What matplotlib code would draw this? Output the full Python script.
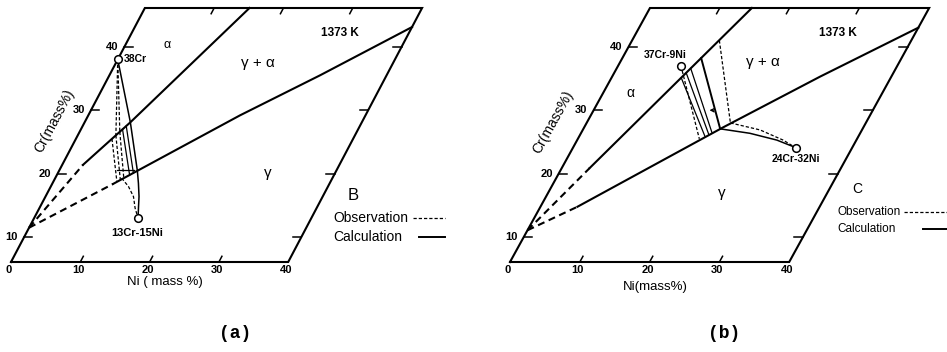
import numpy as np
import matplotlib
matplotlib.use('Agg')
import matplotlib.pyplot as plt
from matplotlib.transforms import Affine2D, offset_copy
from matplotlib.lines import Line2D

plt.rcParams['font.family'] = ['Liberation Sans', 'DejaVu Sans']

# composition frame, mass%
ni_ticks = [0, 10, 20, 30, 40]
cr_ticks = [10, 20, 30, 40]
cr_lo, cr_hi = 6.1, 46.1
ni_hi = 40

# (a) couple B: phase boundaries (first segment is the dashed extrapolation)
a_upper_ni = [0, 3.0, 6.6, 15.1]
a_upper_cr = [11.5, 21.4, 28.1, 46.1]
a_lower_ni = [0, 8.8, 21.9, 30.4, 40]
a_lower_cr = [11.5, 18.4, 29.2, 35.5, 43.1]
a_alloy1 = ('38Cr', 0, 38)
a_alloy2 = ('13Cr-15Ni', 15, 13)
# tie lines: (Ni, Cr) on alpha side -> (Ni, Cr) on gamma side
a_obs_ties = [(5.2, 25.5, 9.2, 18.7), (5.5, 26.05, 9.55, 19.0), (5.8, 26.6, 9.9, 19.3)]
a_calc_ties = [(6.0, 27.0, 10.5, 19.8), (6.3, 27.5, 10.9, 20.1)]
# diffusion paths
a_calc_path_ni = [0, 6.6, 11.3, 12.4, 13.5, 14.2, 15]
a_calc_path_cr = [38, 28.1, 20.46, 18.5, 16.4, 14.8, 13]
a_obs_path_ni = [9.6, 11.2, 12.7, 13.8, 15]
a_obs_path_cr = [19.3, 18.0, 16.4, 14.6, 13]
a_obs_lead = [(5.5, 26.05), (5.8, 26.6)]
a_cross = (8.3, 10.7, 20.6)

# (b) couple C
b_upper_ni = [0, 4.0, 14.6]
b_upper_cr = [11.1, 20.9, 46.1]
b_lower_ni = [0, 5.3, 19.9, 29.8, 40]
b_lower_cr = [11.1, 14.8, 27.3, 35.3, 43.0]
b_alloy1 = ('37Cr-9Ni', 9, 37)
b_alloy2 = ('24Cr-32Ni', 32, 24)
b_obs_ties = [(9.0, 37.0, 17.4, 25.5), (12.5, 41.0, 20.6, 28.0)]
b_calc_ties = [(10.0, 35.1, 18.0, 25.9), (10.3, 35.9, 18.4, 26.2), (10.6, 36.6, 18.7, 26.5)]
b_calc_main = (11.3, 38.2, 19.6, 27.07)
b_calc_path_ni = [19.6, 24.2, 28.6, 31.5, 32]
b_calc_path_cr = [27.07, 26.37, 25.3, 24.26, 24]
b_obs_path_ni = [20.6, 25.4, 29.5, 31.1, 32]
b_obs_path_cr = [28.0, 26.9, 25.3, 24.5, 24]
b_cross = (17.6, 16.2, 30.0)

W, H = 947, 352
fig = plt.figure(figsize=(W / 100, H / 100), dpi=100)
fig.patch.set_facecolor('white')

FS = 8
dash_bnd = (0, (3.4, 2.2))
dash_obs = (0, (2.6, 1.6))


def diagram_axes(left_px, right_px, origin_px, px_ni, px_cr, lean):
    # oblique Ni-Cr frame: Ni horizontal, Cr axis leaning right
    ax = fig.add_axes([left_px / W, 0, (right_px - left_px) / W, 1])
    ax.set_axis_off()
    ax.set_xlim((left_px - origin_px) / px_ni, (right_px - origin_px) / px_ni)
    ax.set_ylim(cr_lo - (H - 262) / px_cr, cr_lo + 262 / px_cr)
    s = lean * px_cr / px_ni
    skew = Affine2D(np.array([[1, s, -s * cr_lo], [0, 1, 0], [0, 0, 1]]))
    return ax, skew + ax.transData


def frame(ax, tr, ni_title, ni_lab, cr_lab, cr_rot):
    ax.plot([0, ni_hi, ni_hi, 0, 0], [cr_lo, cr_lo, cr_hi, cr_hi, cr_lo],
            transform=tr, color='k', lw=1.5, solid_joinstyle='miter')
    for n in ni_ticks[1:-1]:
        ax.plot([n, n], [cr_lo, cr_lo + 0.9], transform=tr, color='k', lw=1.1)
        ax.plot([n, n], [cr_hi, cr_hi - 0.9], transform=tr, color='k', lw=1.1)
    for c in cr_ticks:
        ax.plot([0, 1.2], [c, c], transform=tr, color='k', lw=1.1)
        ax.plot([ni_hi, ni_hi - 1.2], [c, c], transform=tr, color='k', lw=1.1)
    below = offset_copy(tr, fig=fig, x=-2, y=-8, units='dots')
    for n in ni_ticks:
        ax.text(n, cr_lo, str(n), transform=below, ha='center', va='center',
                fontsize=FS, fontweight='bold')
    left = offset_copy(tr, fig=fig, x=-6, y=0, units='dots')
    for c in cr_ticks:
        ax.text(0, c, str(c), transform=left, ha='right', va='center',
                fontsize=FS, fontweight='bold')
    ax.text(*ni_lab, ni_title, transform=tr, ha='center', va='center',
            fontsize=9.5)
    ax.text(*cr_lab, 'Cr(mass%)', transform=tr, ha='center', va='center',
            fontsize=10, rotation=cr_rot, rotation_mode='anchor')


def boundary(ax, tr, ni, cr):
    ax.plot(ni[:2], cr[:2], transform=tr, color='k', lw=1.5, ls=dash_bnd)
    ax.plot(ni[1:], cr[1:], transform=tr, color='k', lw=1.5)


def ties(ax, tr, rows, ls, lw):
    for n1, c1, n2, c2 in rows:
        ax.plot([n1, n2], [c1, c2], transform=tr, color='k', lw=lw, ls=ls)


def alloy(ax, tr, name, ni, cr, dx, dy, ha, fs):
    ax.plot([ni], [cr], 'o', transform=tr, ms=5.5, mfc='white', mec='k',
            mew=1.1, zorder=5)
    lab = offset_copy(tr, fig=fig, x=dx, y=dy, units='dots')
    ax.text(ni, cr, name, transform=lab, ha=ha, va='center', fontsize=fs,
            fontweight='bold')


def legend(x, y, gap, fs, letter, lfs, dash_x, solid_x, line_end):
    px = lambda u, v: (u / W, 1 - v / H)
    fig.text(*px(x + 20, y - 23), letter, fontsize=lfs, ha='center', va='center')
    fig.text(*px(x, y), 'Observation', fontsize=fs, ha='left', va='center')
    fig.text(*px(x, y + gap), 'Calculation', fontsize=fs, ha='left', va='center')
    fig.add_artist(Line2D([dash_x / W, line_end / W], [px(0, y)[1]] * 2,
                          transform=fig.transFigure, color='k', lw=0.9, ls=dash_obs))
    fig.add_artist(Line2D([solid_x / W, line_end / W], [px(0, y + gap)[1]] * 2,
                          transform=fig.transFigure, color='k', lw=1.4))


# ----- (a) -----
ax, tr = diagram_axes(0, 473, 11, 6.93, 6.35, 0.527)
frame(ax, tr, 'Ni ( mass %)', (23.7, 2.9), (-4.5, 28.3), 62)
boundary(ax, tr, a_upper_ni, a_upper_cr)
boundary(ax, tr, a_lower_ni, a_lower_cr)
ties(ax, tr, a_obs_ties, dash_obs, 0.9)
ties(ax, tr, a_calc_ties, '-', 0.9)
for n, c in a_obs_lead:
    ax.plot([a_alloy1[1], n], [a_alloy1[2], c], transform=tr, color='k', lw=0.9, ls=dash_obs)
ax.plot(a_calc_path_ni, a_calc_path_cr, transform=tr, color='k', lw=1.1)
ax.plot(a_obs_path_ni, a_obs_path_cr, transform=tr, color='k', lw=0.9, ls=dash_obs)
ax.plot(a_cross[:2], [a_cross[2]] * 2, transform=tr, color='k', lw=0.9)
alloy(ax, tr, *a_alloy1, dx=6, dy=0, ha='left', fs=7.5)
alloy(ax, tr, *a_alloy2, dx=-1, dy=-15, ha='center', fs=8)
ax.text(6.0, 40.3, 'α', transform=tr, ha='center', va='center', fontsize=9)
ax.text(20.5, 37.4, 'γ + α', transform=tr, ha='center', va='center', fontsize=11)
ax.text(30.1, 42.2, '1373 K', transform=tr, ha='center', va='center', fontsize=8.5,
        fontweight='bold')
ax.text(30.3, 20.1, 'γ', transform=tr, ha='center', va='center', fontsize=11)
legend(333, 218, 19, 10, 'B', 12, 413, 419, 445)
fig.text(235 / W, 1 - 334 / H, '(a)', fontsize=13, family='Liberation Mono',
         fontweight='bold', ha='center', va='center')

# ----- (b) -----
ax, tr = diagram_axes(473, 947, 510, 6.98, 6.35, 0.551)
frame(ax, tr, 'Ni(mass%)', (22.75, 2.2), (-4.9, 28.1), 61)
boundary(ax, tr, b_upper_ni, b_upper_cr)
boundary(ax, tr, b_lower_ni, b_lower_cr)
ties(ax, tr, b_obs_ties, dash_obs, 0.9)
ties(ax, tr, b_calc_ties, '-', 0.9)
ties(ax, tr, [b_calc_main], '-', 1.4)
ax.plot(b_calc_path_ni, b_calc_path_cr, transform=tr, color='k', lw=1.1)
ax.plot(b_obs_path_ni, b_obs_path_cr, transform=tr, color='k', lw=0.9, ls=dash_obs)
ax.annotate('', xy=(b_cross[1], b_cross[2]), xytext=(b_cross[0], b_cross[2]),
            xycoords=tr, textcoords=tr,
            arrowprops=dict(arrowstyle='->', lw=0.9, color='k', mutation_scale=6))
alloy(ax, tr, *b_alloy1, dx=-16, dy=11, ha='center', fs=7.5)
alloy(ax, tr, *b_alloy2, dx=0, dy=-11, ha='center', fs=7.5)
ax.text(3.9, 32.7, 'α', transform=tr, ha='center', va='center', fontsize=10)
ax.text(20.5, 37.6, 'γ + α', transform=tr, ha='center', va='center', fontsize=11)
ax.text(28.9, 42.2, '1373 K', transform=tr, ha='center', va='center', fontsize=8.5,
        fontweight='bold')
ax.text(24.9, 17.0, 'γ', transform=tr, ha='center', va='center', fontsize=11)
legend(837, 212, 17, 8.5, 'C', 10, 904, 923, 947)
fig.text(724 / W, 1 - 334 / H, '(b)', fontsize=13, family='Liberation Mono',
         fontweight='bold', ha='center', va='center')

fig.savefig('out.png', dpi=100, facecolor='white')
